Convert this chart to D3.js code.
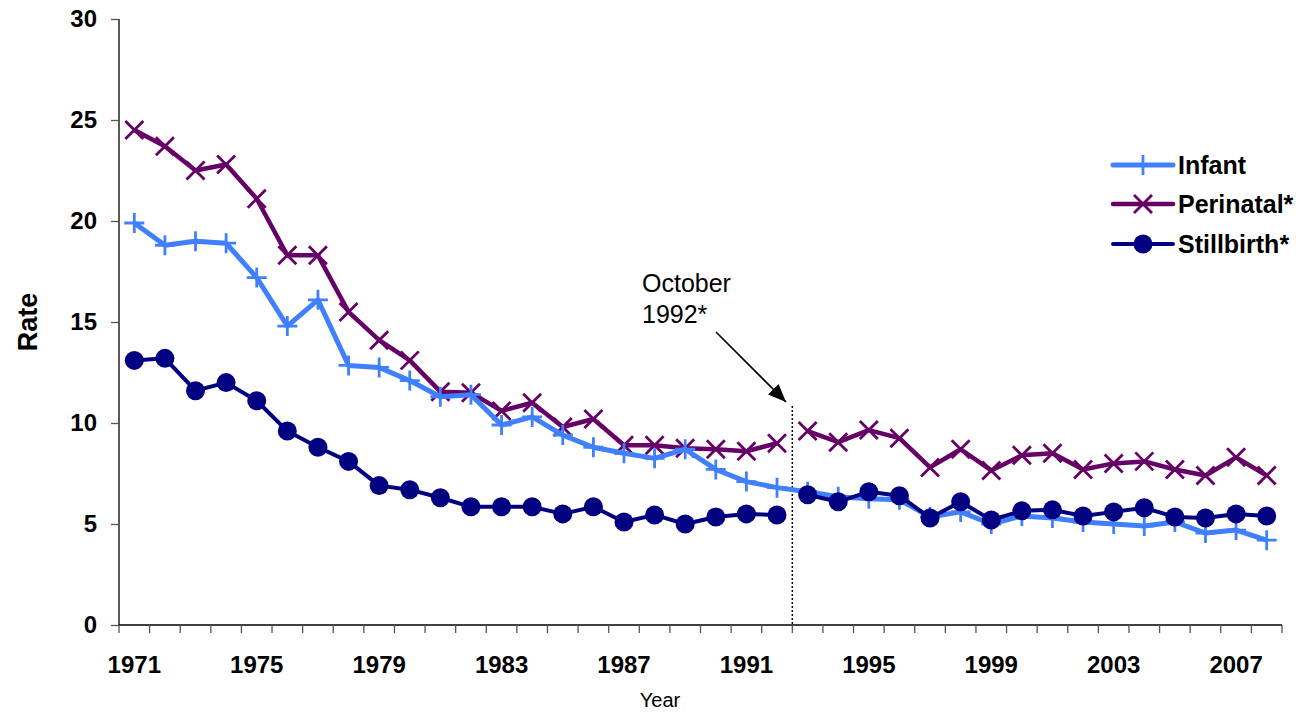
<!DOCTYPE html>
<html>
<head>
<meta charset="utf-8">
<script src="https://cdn.jsdelivr.net/npm/d3@7"></script>
<style>
  html, body { margin: 0; padding: 0; background: #fff; }
  svg { display: block; }
  text { font-family: "Liberation Sans", Arial, sans-serif; }
</style>
</head>
<body>
<svg id="chart" width="1300" height="715"></svg>
<script>
const years = [1971,1972,1973,1974,1975,1976,1977,1978,1979,1980,1981,1982,1983,1984,1985,1986,1987,1988,1989,1990,
               1991,1992,1993,1994,1995,1996,1997,1998,1999,2000,2001,2002,2003,2004,2005,2006,2007,2008];
const infant = [19.9,18.8,19.0,18.9,17.2,14.8,16.1,12.85,12.75,12.1,11.3,11.4,9.9,10.3,9.4,8.8,8.5,8.25,8.7,7.7,
                7.1,6.8,6.6,6.35,6.25,6.2,5.35,5.6,5.0,5.4,5.3,5.1,5.0,4.9,5.1,4.55,4.7,4.2];
const perinatal = [24.5,23.7,22.5,22.8,21.1,18.3,18.3,15.5,14.1,13.1,11.55,11.5,10.6,11.0,9.8,10.2,8.9,8.9,8.75,8.7,
                   8.6,9.0,9.6,9.05,9.65,9.25,7.8,8.7,7.65,8.4,8.5,7.7,8.0,8.1,7.7,7.4,8.3,7.4];
const stillbirth = [13.1,13.2,11.6,12.0,11.1,9.6,8.8,8.1,6.9,6.7,6.3,5.85,5.85,5.85,5.5,5.85,5.1,5.45,5.0,5.35,
                    5.5,5.45,6.45,6.1,6.6,6.4,5.3,6.1,5.2,5.65,5.7,5.4,5.6,5.8,5.35,5.3,5.5,5.4];
const labelYears = [1971,1975,1979,1983,1987,1991,1995,1999,2003,2007];
const yTicks = [0,5,10,15,20,25,30];
const breakYear = 1993;
const seriesNames = ["Infant","Perinatal*","Stillbirth*"];

const svg = d3.select("#chart");
const M = { left: 119, right: 1282, top: 19, bottom: 625 };
const x = d3.scaleBand().domain(years).range([M.left, M.right]).padding(0);
const cx = d => x(d) + x.bandwidth() / 2;
const y = d3.scaleLinear().domain([0, 30]).range([M.bottom, M.top]);

const FONT = '"Liberation Sans", Arial, sans-serif';

// Y axis
const yAxis = svg.append("g").attr("transform", `translate(${M.left},0)`)
  .call(d3.axisLeft(y).tickValues(yTicks).tickSize(8).tickPadding(14).tickFormat(d3.format("d")));
yAxis.select(".domain").attr("stroke", "#000").attr("stroke-width", 1.3).attr("d", `M0,${M.top}V${M.bottom}`);
yAxis.selectAll(".tick line").attr("stroke", "#555").attr("stroke-width", 1.3);
yAxis.selectAll("text").attr("font-family", FONT).attr("font-size", 24).attr("font-weight", "bold").attr("fill", "#000");

// X axis line and boundary ticks
const xg = svg.append("g");
xg.append("line").attr("x1", M.left).attr("x2", M.right).attr("y1", M.bottom).attr("y2", M.bottom)
  .attr("stroke", "#000").attr("stroke-width", 1.3);
const boundaries = years.map(d => x(d)).concat([x.range()[1]]);
xg.selectAll("line.tk").data(boundaries).join("line").attr("class", "tk")
  .attr("x1", d => d).attr("x2", d => d).attr("y1", M.bottom).attr("y2", M.bottom + 8)
  .attr("stroke", "#555").attr("stroke-width", 1.3);
const xAxis = svg.append("g").attr("transform", `translate(0,${M.bottom})`)
  .call(d3.axisBottom(x).tickValues(labelYears).tickSize(0).tickPadding(31));
xAxis.select(".domain").remove();
xAxis.selectAll("text").attr("font-family", FONT).attr("font-size", 24).attr("font-weight", "bold").attr("fill", "#000");

// Axis titles
svg.append("text").attr("transform", "translate(37,322) rotate(-90)").attr("text-anchor", "middle")
  .attr("font-size", 27).attr("font-weight", "bold").text("Rate");
svg.append("text").attr("x", 660).attr("y", 707).attr("text-anchor", "middle")
  .attr("font-size", 20).text("Year");

// Dotted break line
svg.append("line").attr("x1", x(breakYear)).attr("x2", x(breakYear)).attr("y1", 406).attr("y2", M.bottom)
  .attr("stroke", "#000").attr("stroke-width", 1.5).attr("stroke-dasharray", "2,2");

// Series
const series = [
  { name: seriesNames[1], values: perinatal, color: "#660066", width: 4.5, marker: "x", broken: true },
  { name: seriesNames[0], values: infant, color: "#4080FF", width: 5, marker: "plus", broken: false },
  { name: seriesNames[2], values: stillbirth, color: "#000080", width: 4, marker: "circle", broken: true }
];
const line = d3.line().x(d => cx(d.year)).y(d => y(d.value));

function drawMarker(g, type, color, px, py) {
  if (type === "plus") {
    g.append("path").attr("d", `M${px-10},${py}H${px+10}M${px},${py-10}V${py+10}`)
      .attr("stroke", color).attr("stroke-width", 2.8).attr("fill", "none");
  } else if (type === "x") {
    const s = 9;
    g.append("path").attr("d", `M${px-s},${py-s}L${px+s},${py+s}M${px-s},${py+s}L${px+s},${py-s}`)
      .attr("stroke", color).attr("stroke-width", 2.8).attr("fill", "none");
  } else {
    g.append("circle").attr("cx", px).attr("cy", py).attr("r", 9.5).attr("fill", color);
  }
}

series.forEach(s => {
  const pts = years.map((yr, i) => ({ year: yr, value: s.values[i] }));
  const segs = s.broken ? [pts.filter(p => p.year < breakYear), pts.filter(p => p.year >= breakYear)] : [pts];
  const g = svg.append("g");
  segs.forEach(seg => {
    g.append("path").datum(seg).attr("d", line).attr("fill", "none")
      .attr("stroke", s.color).attr("stroke-width", s.width).attr("stroke-linejoin", "round");
  });
  pts.forEach(p => drawMarker(g, s.marker, s.color, cx(p.year), y(p.value)));
});

// Legend
const legendOrder = [series[1], series[0], series[2]];
const legendY = [165, 204, 244];
legendOrder.forEach((s, i) => {
  const g = svg.append("g");
  const ly = legendY[i];
  g.append("line").attr("x1", 1113).attr("x2", 1173).attr("y1", ly).attr("y2", ly)
    .attr("stroke", s.color).attr("stroke-width", s.width).attr("stroke-linecap", "round");
  drawMarker(g, s.marker, s.color, 1143, ly);
  g.append("text").attr("x", 1178).attr("y", ly + 9).attr("font-size", 25).attr("font-weight", "bold")
    .attr("fill", "#000").text(s.name);
});

// Annotation
const ann = svg.append("text").attr("font-size", 25).attr("fill", "#000");
ann.append("tspan").attr("x", 642).attr("y", 292).text("October");
ann.append("tspan").attr("x", 642).attr("y", 323).text("1992*");
svg.append("defs").append("marker").attr("id", "arr")
  .attr("markerUnits", "userSpaceOnUse").attr("orient", "auto")
  .attr("viewBox", "0 0 18 15").attr("markerWidth", 18).attr("markerHeight", 15).attr("refX", 18).attr("refY", 7.5)
  .append("path").attr("d", "M0,0L18,7.5L0,15Z").attr("fill", "#000");
svg.append("line").attr("x1", 716).attr("y1", 332).attr("x2", 786).attr("y2", 402)
  .attr("stroke", "#000").attr("stroke-width", 1.6).attr("marker-end", "url(#arr)");
</script>
</body>
</html>
